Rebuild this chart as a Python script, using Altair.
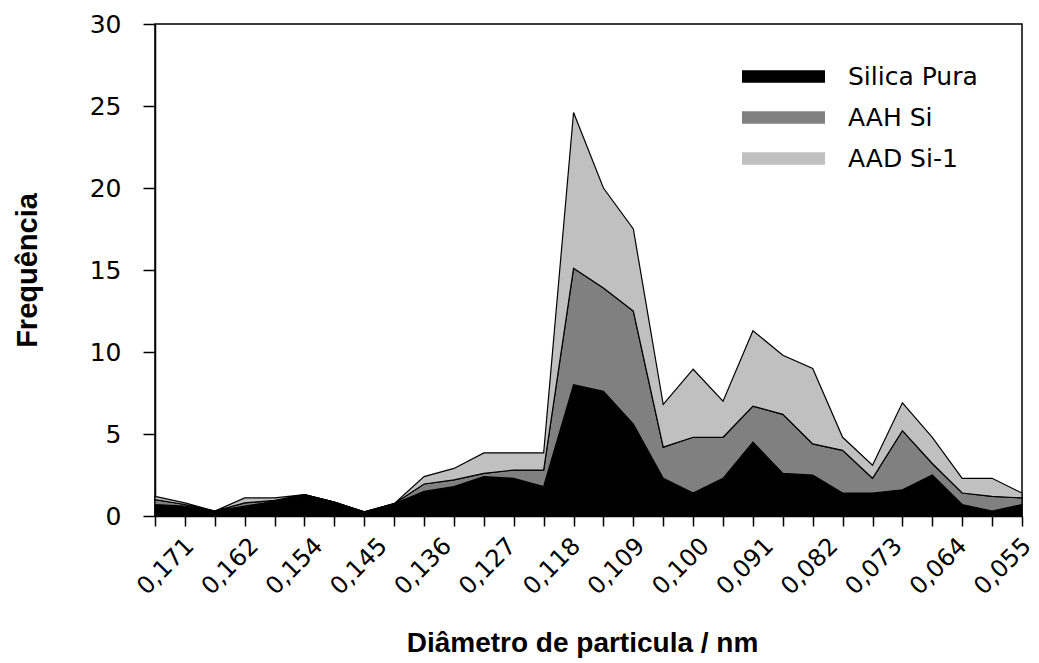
import altair as alt
import pandas as pd

# category index (30 points) and tick labels
idx = list(range(30))
x_labels = ['0,171', '0,162', '0,154', '0,145', '0,136', '0,127', '0,118',
            '0,109', '0,100', '0,091', '0,082', '0,073', '0,064', '0,055']

series_names = ['Silica Pura', 'AAH Si', 'AAD Si-1']
silica_pura = [0.7, 0.6, 0.3, 0.6, 0.9, 1.3, 0.85, 0.25, 0.75, 1.5, 1.8, 2.4, 2.3, 1.8, 8.0,
               7.6, 5.6, 2.3, 1.4, 2.3, 4.5, 2.6, 2.5, 1.4, 1.4, 1.6, 2.5, 0.7, 0.3, 0.7]
aah_si = [0.3, 0.1, 0.0, 0.2, 0.05, 0.0, 0.0, 0.0, 0.0, 0.45, 0.4, 0.2, 0.5, 1.0, 7.1,
          6.3, 6.9, 1.9, 3.4, 2.5, 2.2, 3.6, 1.9, 2.6, 0.9, 3.6, 0.7, 0.7, 0.9, 0.4]
aad_si1 = [0.2, 0.1, 0.0, 0.3, 0.15, 0.0, 0.0, 0.0, 0.0, 0.45, 0.7, 1.25, 1.05, 1.05, 9.5,
           6.1, 5.0, 2.6, 4.15, 2.2, 4.6, 3.6, 4.6, 0.8, 0.8, 1.7, 1.6, 0.9, 1.1, 0.3]
colors = ['#000000', '#808080', '#c0c0c0']

rows = []
for k, (name, vals) in enumerate(zip(series_names, [silica_pura, aah_si, aad_si1])):
    for i, v in zip(idx, vals):
        rows.append({'idx': i, 'serie': name, 'val': v, 'ord': k})
df = pd.DataFrame(rows)

FONT = 'DejaVu Sans'
TFONT = 'Liberation Sans'

n_lab = len(x_labels)
label_pos = [1 + 28 * j / (n_lab - 1) for j in range(n_lab)]
labels_js = '[' + ','.join("'" + s + "'" for s in x_labels) + ']'

xscale = alt.Scale(domain=[0, 29], nice=False, zero=False)

areas = alt.Chart(df).mark_area(stroke='black', strokeWidth=1.2).encode(
    x=alt.X('idx:Q', scale=xscale,
            axis=alt.Axis(values=idx, labels=False, tickSize=10, tickWidth=1.5,
                          tickColor='black', domainColor='black', domainWidth=1.5,
                          grid=False, title='Diâmetro de particula / nm',
                          titleFont=TFONT, titleFontSize=28, titleFontWeight='bold',
                          titleColor='black', titleX=427, titleY=127,
                          titleAlign='center', titleBaseline='middle')),
    y=alt.Y('val:Q', stack='zero',
            scale=alt.Scale(domain=[0, 30], nice=False),
            axis=alt.Axis(values=[0, 5, 10, 15, 20, 25, 30], tickSize=12, tickWidth=1.5,
                          tickColor='black', domainColor='black', domainWidth=1.5,
                          grid=False, labelFont=FONT, labelFontSize=25,
                          labelColor='black', labelPadding=22,
                          title='Frequência', titleFont=TFONT, titleFontSize=29,
                          titleFontWeight='bold', titleColor='black',
                          titleAngle=-90, titleX=-128, titleY=246,
                          titleAlign='center', titleBaseline='middle')),
    color=alt.Color('serie:N', sort=series_names,
                    scale=alt.Scale(domain=series_names, range=colors),
                    legend=alt.Legend(title=None, orient='none', legendX=587, legendY=40,
                                      symbolType='M-1,-0.15L1,-0.15L1,0.15L-1,0.15Z',
                                      symbolSize=6889, symbolStrokeWidth=0,
                                      symbolOpacity=1, clipHeight=25, rowPadding=15,
                                      labelFont=FONT, labelFontSize=25,
                                      labelColor='black', labelOffset=23,
                                      padding=0)),
    order=alt.Order('ord:Q', sort='ascending'),
)

labels_layer = alt.Chart(df).mark_point(opacity=0).encode(
    x=alt.X('idx:Q', scale=xscale,
            axis=alt.Axis(values=label_pos, orient='bottom',
                          labelExpr=labels_js + '[round((datum.value - 1) * 13 / 28)]',
                          ticks=False, domain=False, grid=False, title=None,
                          labelAngle=-45, labelAlign='right', labelBaseline='middle',
                          labelFont=FONT, labelFontSize=24, labelColor='black',
                          labelPadding=26, labelOffset=5, labelOverlap=False,
                          labelFlush=False, labelBound=False)),
)

chart = alt.layer(areas, labels_layer).resolve_axis(x='independent').properties(
    width=867, height=492,
    autosize=alt.AutoSizeParams(type='none'),
    padding={'left': 155, 'top': 24, 'right': 17, 'bottom': 147},
    background='white',
).configure_view(stroke='black', strokeWidth=1.5)

chart.save('out.html', embed_options={'renderer': 'svg', 'actions': False})
